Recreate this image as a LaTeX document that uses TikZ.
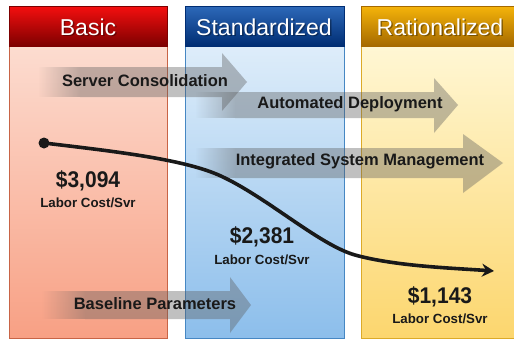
\documentclass[tikz,border=0pt]{standalone}
\usepackage{fontspec}
\setmainfont{Liberation Sans}
\usetikzlibrary{arrows.meta,fadings}
\definecolor{hdrRtop}{RGB}{245,15,15}
\definecolor{hdrRbot}{RGB}{125,0,0}
\definecolor{hdrBtop}{RGB}{45,105,185}
\definecolor{hdrBbot}{RGB}{0,45,115}
\definecolor{hdrYtop}{RGB}{245,180,10}
\definecolor{hdrYbot}{RGB}{165,105,0}
\definecolor{bodRtop}{RGB}{252,220,208}
\definecolor{bodRbot}{RGB}{248,160,132}
\definecolor{bodBtop}{RGB}{222,237,250}
\definecolor{bodBbot}{RGB}{140,190,235}
\definecolor{bodYtop}{RGB}{255,247,212}
\definecolor{bodYbot}{RGB}{252,214,110}
\definecolor{brdR}{RGB}{200,100,70}
\definecolor{brdB}{RGB}{70,135,195}
\definecolor{brdY}{RGB}{220,170,40}
\definecolor{ink}{RGB}{25,25,25}
\definecolor{arr}{RGB}{90,90,90}
\tikzfading[name=fadein, left color=transparent!100, right color=transparent!0]
\tikzset{
  hdrtext/.style={text=white, font=\fontsize{23}{23}\selectfont, inner sep=0pt},
  hdrshadow/.style={text=black, opacity=0.35, font=\fontsize{23}{23}\selectfont, inner sep=0pt},
  arrtext/.style={text=ink, font=\fontsize{16.5}{16.5}\selectfont\bfseries, inner sep=0pt},
  costtext/.style={text=ink, font=\fontsize{21}{21}\selectfont\bfseries, inner sep=0pt, yscale=1.08},
  labtext/.style={text=ink, font=\fontsize{13.3}{13.3}\selectfont\bfseries, inner sep=0pt},
  arrbody/.style={fill=arr, fill opacity=0.38, draw=none},
}
\begin{document}
\begin{tikzpicture}[x=1pt,y=-1pt]
\useasboundingbox (0,0) rectangle (514,343);
\fill[white] (0,0) rectangle (514,343);
% columns
\shade[top color=bodRtop, bottom color=bodRbot] (9,46) rectangle (167,338);
\draw[brdR, line width=0.8pt] (9,46) rectangle (167,338);
\shade[top color=hdrRtop, bottom color=hdrRbot] (9,6) rectangle (167,46);
\draw[hdrRbot, line width=0.6pt] (9,6) rectangle (167,46);

\shade[top color=bodBtop, bottom color=bodBbot] (185,46) rectangle (344,338);
\draw[brdB, line width=0.8pt] (185,46) rectangle (344,338);
\shade[top color=hdrBtop, bottom color=hdrBbot] (185,6) rectangle (344,46);
\draw[hdrBbot, line width=0.6pt] (185,6) rectangle (344,46);

\shade[top color=bodYtop, bottom color=bodYbot] (361,46) rectangle (520,338);
\draw[brdY, line width=0.8pt] (361,46) rectangle (520,338);
\shade[top color=hdrYtop, bottom color=hdrYbot] (361,6) rectangle (520,46);
\draw[hdrYbot, line width=0.6pt] (361,6) rectangle (520,46);

% headers
\node[hdrshadow] at (89.5,28.5) {Basic};
\node[hdrtext] (hBasic) at (88,27) {Basic};
\node[hdrshadow] at (265.5,28.5) {Standardized};
\node[hdrtext] (hStd) at (264,27) {Standardized};
\node[hdrshadow] at (441.5,28.5) {Rationalized};
\node[hdrtext] (hRat) at (440,27) {Rationalized};

% arrows: tail faded part + solid part
\fill[arr, fill opacity=0.38, path fading=fadein] (38,67) rectangle (80,97);
\fill[arrbody] (80,67) -- (222,67) -- (222,53) -- (247,82) -- (222,111) -- (222,97) -- (80,97) -- cycle;
\fill[arr, fill opacity=0.38, path fading=fadein] (195,92) rectangle (235,118);
\fill[arrbody] (235,92) -- (434,92) -- (434,78) -- (458,105) -- (434,133) -- (434,118) -- (235,118) -- cycle;
\fill[arr, fill opacity=0.38, path fading=fadein] (195,148) rectangle (235,178);
\fill[arrbody] (235,148) -- (463,148) -- (463,134) -- (503,163) -- (463,193) -- (463,178) -- (235,178) -- cycle;
\fill[arr, fill opacity=0.38, path fading=fadein] (42,291) rectangle (85,319);
\fill[arrbody] (85,291) -- (230,291) -- (230,277) -- (251,305) -- (230,333) -- (230,319) -- (85,319) -- cycle;

\node[arrtext] (tServer) at (145,81) {Server Consolidation};
\node[arrtext] (tAuto) at (350,104) {Automated Deployment};
\node[arrtext] (tInt) at (360,161) {Integrated System Management};
\node[arrtext] (tBase) at (155,304) {Baseline Parameters};

% cost curve
\coordinate (c0) at (44,143);
\coordinate (c1) at (494,271);
\fill[ink] (c0) circle (5.5);
\draw[ink, line width=3.6pt, -{Stealth[length=12pt,width=13pt]}]
  (c0) .. controls (120,152) and (190,160) .. (225,178)
       .. controls (270,200) and (320,245) .. (355,255)
       .. controls (395,266) and (450,268) .. (c1);

\node[costtext] (v1) at (88,181) {\$3,094};
\node[labtext] (l1) at (88,203) {Labor Cost/Svr};
\node[costtext] (v2) at (262,237) {\$2,381};
\node[labtext] (l2) at (262,260) {Labor Cost/Svr};
\node[costtext] (v3) at (440,297) {\$1,143};
\node[labtext] (l3) at (440,319) {Labor Cost/Svr};
\end{tikzpicture}
\end{document}
